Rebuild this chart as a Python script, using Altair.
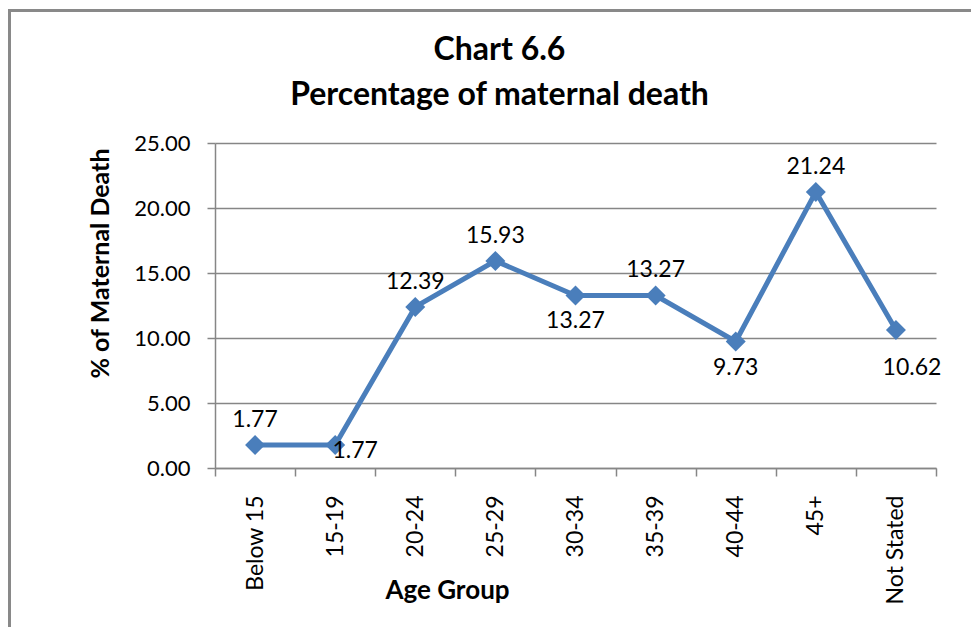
import altair as alt
import pandas as pd

age_groups = ["Below 15", "15-19", "20-24", "25-29", "30-34", "35-39", "40-44", "45+", "Not Stated"]
percent = [1.77, 1.77, 12.39, 15.93, 13.27, 13.27, 9.73, 21.24, 10.62]
label_side = ["above", "right", "above", "above", "below", "above", "below", "above", "lower-right"]
y_ticks = [0, 5, 10, 15, 20, 25]

df = pd.DataFrame({"age": age_groups, "pct": percent, "side": label_side})

FONT = "Lato"
BLUE = "#4A7EBB"
GRID = "#868686"

x_enc = alt.X(
    "age:N",
    sort=age_groups,
    scale=alt.Scale(type="band", paddingInner=0, paddingOuter=0),
    axis=alt.Axis(
        title="Age Group",
        labelAngle=270,
        tickBand="extent",
        ticks=True,
        tickSize=8,
        tickColor=GRID,
        tickWidth=1.5,
        domainColor=GRID,
        domainWidth=1.5,
        grid=False,
        labelFont=FONT,
        labelFontSize=23,
        labelColor="black",
        labelPadding=19,
        titleFont=FONT,
        titleFontSize=26,
        titleFontWeight="bold",
        titleColor="black",
        titleX=232,
        titleY=122,
        titleAlign="center",
        titleBaseline="middle",
    ),
)

y_enc = alt.Y(
    "pct:Q",
    scale=alt.Scale(domain=[0, 25]),
    axis=alt.Axis(
        values=y_ticks,
        format=".2f",
        title="% of Maternal Death",
        grid=True,
        gridColor=GRID,
        gridWidth=1.5,
        domainColor=GRID,
        domainWidth=1.5,
        tickColor=GRID,
        tickWidth=1.5,
        tickSize=8,
        labelPadding=17,
        labelFont=FONT,
        labelFontSize=22,
        labelColor="black",
        titleFont=FONT,
        titleFontSize=25,
        titleFontWeight="bold",
        titleColor="black",
        titleAngle=270,
        titleX=-115,
        titleY=120,
        titleAlign="center",
        titleBaseline="middle",
    ),
)

base = alt.Chart(df).encode(x=x_enc, y=y_enc)

line = base.mark_line(color=BLUE, strokeWidth=5)
points = base.mark_point(shape="diamond", filled=True, size=400, color=BLUE, opacity=1)

offsets = {"above": (0, -25), "below": (0, 26), "right": (20, 6), "lower-right": (16, 38)}
labels = []
for side, (ddx, ddy) in offsets.items():
    labels.append(
        base.transform_filter(alt.datum.side == side)
        .mark_text(dx=ddx, dy=ddy, font=FONT, fontSize=23, color="black")
        .encode(text=alt.Text("pct:Q", format=".2f"))
    )

border = (
    alt.Chart(pd.DataFrame({"a": [0]}))
    .mark_rect(fillOpacity=0, stroke="#898989", strokeWidth=3)
    .encode(x=alt.value(-205.5), x2=alt.value(900), y=alt.value(-132.5), y2=alt.value(700))
)

chart = (
    alt.layer(border, line, points, *labels)
    .properties(
        width=721,
        height=325,
        autosize=alt.AutoSizeParams(type="none"),
        padding={"left": 207, "top": 135, "right": 35, "bottom": 159},
        background="white",
        title=alt.TitleParams(
            text=["Chart 6.6", "Percentage of maternal death"],
            font=FONT,
            fontSize=32,
            fontWeight="bold",
            color="black",
            anchor="middle",
            frame="group",
            dx=-76,
            offset=-103,
            lineHeight=45,
        ),
    )
    .configure_view(strokeWidth=0)
)

chart.save("out.html", embed_options={"renderer": "svg", "actions": False})
